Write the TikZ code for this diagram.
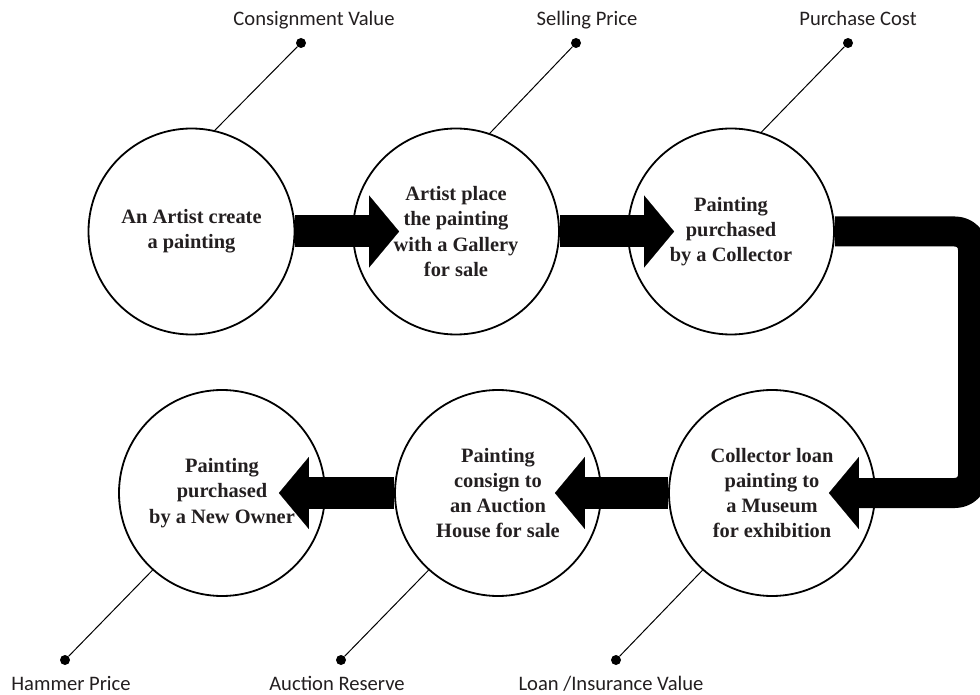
\documentclass[tikz,border=0pt]{standalone}
\usepackage{fontspec}
\setmainfont{Liberation Serif}
\newfontfamily\tagfont{Carlito}
\usetikzlibrary{arrows.meta}
\definecolor{ink}{RGB}{35,31,32}
\begin{document}
\begin{tikzpicture}[x=0.5pt,y=-0.5pt, line join = round,>={Triangle[length=15pt,width=36pt,line width=0.1pt]}]
	\tikzset{stage/.style={circle, draw, line width=0.9pt, fill=white, minimum size=103pt, inner sep=0pt, align=center, text=ink, font=\bfseries\fontsize{10.2}{12.6}\selectfont},
		flow/.style={->, line width=16pt, shorten >=-23.5pt},
		dot/.style={circle, fill, inner sep=0pt, minimum size=5pt},
		lead/.style={line width=0.5pt},
		tag/.style={anchor=base, text=ink, font=\tagfont\fontsize{10.3}{12}\selectfont}}
	\clip (0,0) rectangle (980,695);
	% the six stages
	\node[stage] (c1) at (191.5,231.5) {An Artist create\\a painting};
	\node[stage] (c2) at (456,231.5) {Artist place\\the painting\\with a Gallery\\for sale};
	\node[stage] (c3) at (731,231.5) {Painting\\purchased\\by a Collector};
	\node[stage] (c4) at (772,493) {Collector loan\\painting to\\a Museum\\for exhibition};
	\node[stage] (c5) at (498,493) {Painting\\consign to\\an Auction\\House for sale};
	\node[stage] (c6) at (222,493) {Painting\\purchased\\by a New Owner};
	% flow
	\draw[flow] (c1) -- (c2);
	\draw[flow] (c2) -- (c3);
	\draw[flow, line width=15pt, rounded corners=9pt] (c3.east) -- (973,231.5) |- (c4);
	\draw[flow] (c4) -- (c5);
	\draw[flow] (c5) -- (c6);
	% values
	\node[dot] (d1) at (301,43) {};
	\node[dot] (d2) at (576,43) {};
	\node[dot] (d3) at (848,43) {};
	\node[dot] (d4) at (616,660) {};
	\node[dot] (d5) at (341,660) {};
	\node[dot] (d6) at (65,660) {};
	\node[tag] (t1) at (314,26) {Consignment Value};
	\node[tag] (t2) at (587,26) {Selling Price};
	\node[tag] (t3) at (858,26) {Purchase Cost};
	\node[tag] (t4) at (611,690) {Loan /Insurance Value};
	\node[tag] (t5) at (337,690) {Auction Reserve};
	\node[tag] (t6) at (71,690) {Hammer Price};
	\draw[lead] (c1.77) -- (d1) (c2.71) -- (d2) (c3.73) -- (d3);
	\draw[lead] (c4.228) -- (d4) (c5.228) -- (d5) (c6.228) -- (d6);
\end{tikzpicture}
\end{document}
